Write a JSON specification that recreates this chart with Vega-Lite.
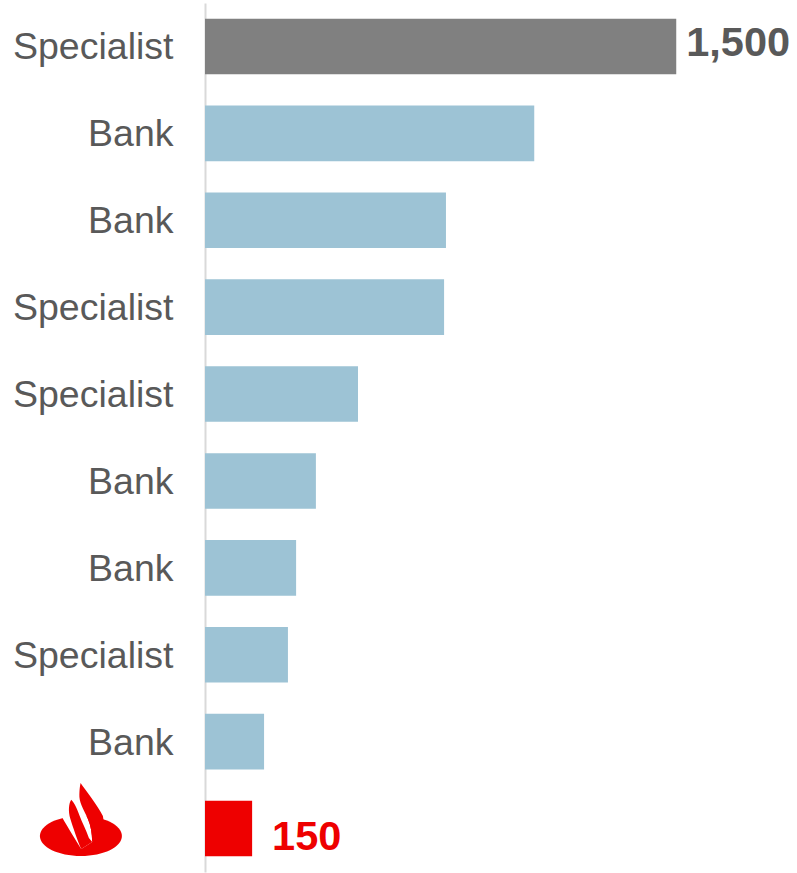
{
  "$schema": "https://vega.github.io/schema/vega-lite/v6.json",
  "width": 590,
  "height": 869,
  "autosize": {"type": "none"},
  "padding": {"left": 205, "top": 3, "right": 2, "bottom": 1},
  "background": "white",
  "config": {"view": {"stroke": null}, "font": "Liberation Sans"},
  "data": {
    "values": [
      {"id": "Specialist|1", "value": 1500, "group": "top"},
      {"id": "Bank|2", "value": 1048, "group": "peer"},
      {"id": "Bank|3", "value": 767, "group": "peer"},
      {"id": "Specialist|4", "value": 761, "group": "peer"},
      {"id": "Specialist|5", "value": 487, "group": "peer"},
      {"id": "Bank|6", "value": 353, "group": "peer"},
      {"id": "Bank|7", "value": 290, "group": "peer"},
      {"id": "Specialist|8", "value": 264, "group": "peer"},
      {"id": "Bank|9", "value": 188, "group": "peer"},
      {"id": "Santander|10", "value": 150, "group": "santander"}
    ]
  },
  "encoding": {
    "y": {
      "field": "id",
      "type": "nominal",
      "sort": null,
      "scale": {"paddingInner": 0.36, "paddingOuter": 0.18},
      "axis": {
        "title": null,
        "ticks": false,
        "grid": false,
        "domainColor": "#D9D9D9",
        "domainWidth": 2,
        "labelFont": "Liberation Sans",
        "labelFontSize": 37.5,
        "labelColor": "#595959",
        "labelPadding": 32,
        "labelOffset": 2,
        "labelExpr": "split(datum.value, '|')[0] == 'Santander' ? '' : split(datum.value, '|')[0]"
      }
    }
  },
  "layer": [
    {
      "mark": {"type": "bar"},
      "encoding": {
        "x": {"field": "value", "type": "quantitative", "scale": {"domain": [0, 1878], "nice": false, "zero": true}, "axis": null},
        "color": {"field": "group", "type": "nominal", "scale": {"domain": ["top", "peer", "santander"], "range": ["#808080", "#9DC3D5", "#EE0000"]}, "legend": null}
      }
    },
    {
      "transform": [{"filter": "datum.group == 'top'"}],
      "mark": {"type": "text", "align": "left", "baseline": "middle", "dx": 10, "dy": -2, "fontSize": 41.5, "fontWeight": "bold", "font": "Liberation Sans", "color": "#595959"},
      "encoding": {
        "x": {"field": "value", "type": "quantitative"},
        "text": {"field": "value", "type": "quantitative", "format": ","}
      }
    },
    {
      "transform": [{"filter": "datum.group == 'santander'"}],
      "mark": {"type": "text", "align": "left", "baseline": "middle", "dx": 20, "dy": 9, "fontSize": 41.5, "fontWeight": "bold", "font": "Liberation Sans", "color": "#EE0000"},
      "encoding": {
        "x": {"field": "value", "type": "quantitative"},
        "text": {"field": "value", "type": "quantitative", "format": ","}
      }
    },
    {
      "transform": [{"filter": "datum.group == 'santander'"}],
      "mark": {"type": "point", "filled": true, "strokeWidth": 0, "opacity": 1, "size": 4, "yOffset": -9.5, "color": "#EE0000",
        "shape": "M -41,17 A 41,20 0 1,0 41,17 A 41,20 0 1,0 -41,17 Z"},
      "encoding": {"x": {"datum": -395, "type": "quantitative"}}
    },
    {
      "transform": [{"filter": "datum.group == 'santander'"}],
      "mark": {"type": "point", "filled": true, "strokeWidth": 0, "opacity": 1, "size": 4, "yOffset": -9.5, "color": "#FFFFFF",
        "shape": "M -21,-6 C -16,4 -7,18 0.3,30 L 11.3,23 C 11,14 10,7 7,0 C 4,-7 -1,-15 -1.5,-22 L -16,-22 Z"},
      "encoding": {"x": {"datum": -395, "type": "quantitative"}}
    },
    {
      "transform": [{"filter": "datum.group == 'santander'"}],
      "mark": {"type": "point", "filled": true, "strokeWidth": 0, "opacity": 1, "size": 4, "yOffset": -9.5, "color": "#EE0000",
        "shape": "M -0.3,-36 C 5,-28 16,-15 22,-3 L 24,10 L 11.3,22.5 C 11,14 10,7 7,0 C 4,-7 -1,-15 -1.5,-22 C -1.5,-29 -1,-33 -0.3,-36 Z M -9.7,-19.3 C -6,-16 -3,-8 -1.3,-3.3 C 1,3 5,10 8,19 L 11.3,23 L 0.3,30 C -4,20 -8,8 -10.5,0 C -13,-8 -12,-16 -9.7,-19.3 Z"},
      "encoding": {"x": {"datum": -395, "type": "quantitative"}}
    }
  ]
}
